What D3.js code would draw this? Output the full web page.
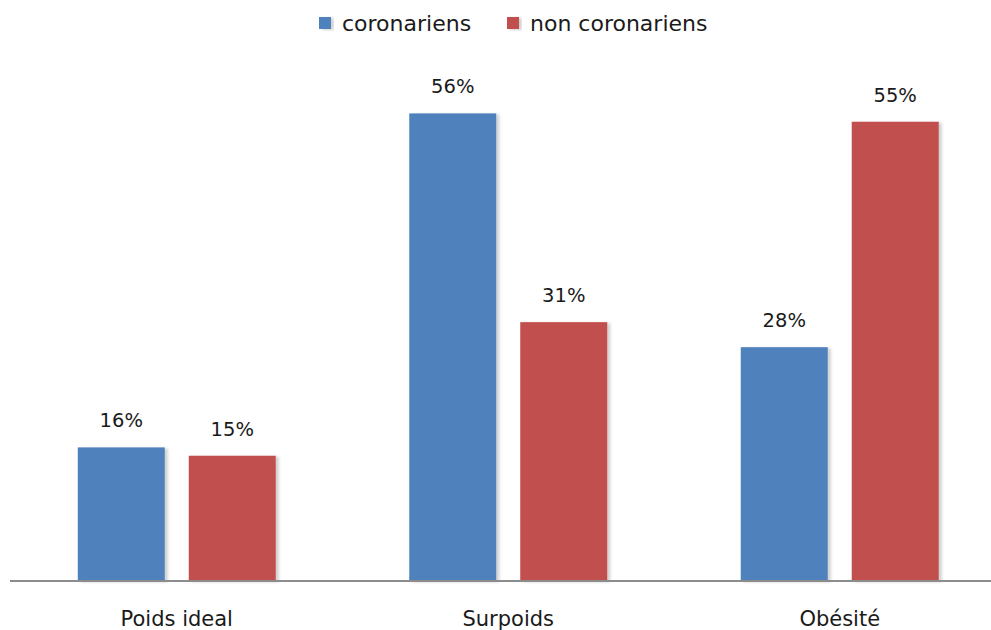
<!DOCTYPE html>
<html>
<head>
<meta charset="utf-8">
<script src="https://cdn.jsdelivr.net/npm/d3@7"></script>
<style>
  body { margin: 0; background: #fff; }
  svg text { font-family: "DejaVu Sans", "Noto Sans", sans-serif; fill: #1a1a1a; }
</style>
</head>
<body>
<svg id="chart" width="991" height="630"></svg>
<script>
// Répartition selon l'indice de masse corporelle
const categories = ["Poids ideal", "Surpoids", "Obésité"];
const seriesNames = ["coronariens", "non coronariens"];
const coronariens = [16, 56, 28];
const nonCoronariens = [15, 31, 55];
const seriesColors = ["#4F81BD", "#C0504D"];

const values = [coronariens, nonCoronariens];
const rows = categories.map((c, i) => ({
  category: c,
  bars: seriesNames.map((s, j) => ({ series: s, value: values[j][i], color: seriesColors[j] }))
}));

const svg = d3.select("#chart");
const baseY = 581;

const x0 = d3.scaleBand()
  .domain(categories)
  .range([11, 1005.5])
  .paddingInner(0.4027)
  .paddingOuter(0.2014);

const x1 = d3.scaleBand()
  .domain(seriesNames)
  .range([0, x0.bandwidth()])
  .paddingInner(0.216)
  .paddingOuter(0);

const y = d3.scaleLinear().domain([0, 60]).range([baseY, 80]);

// soft shadow on the right side of each bar
const defs = svg.append("defs");
const f = defs.append("filter").attr("id", "shadow")
  .attr("x", "-10%").attr("y", "-10%").attr("width", "130%").attr("height", "120%");
f.append("feDropShadow").attr("dx", 3).attr("dy", 1).attr("stdDeviation", 1.5)
  .attr("flood-color", "#000").attr("flood-opacity", 0.18);

const groups = svg.append("g").selectAll("g")
  .data(rows).join("g")
  .attr("transform", d => `translate(${x0(d.category)},0)`);

groups.selectAll("rect")
  .data(d => d.bars).join("rect")
  .attr("x", d => x1(d.series))
  .attr("y", d => y(d.value))
  .attr("width", x1.bandwidth())
  .attr("height", d => baseY - y(d.value))
  .attr("fill", d => d.color)
  .attr("filter", "url(#shadow)");

groups.selectAll("text.val")
  .data(d => d.bars).join("text")
  .attr("class", "val")
  .attr("x", d => x1(d.series) + x1.bandwidth() / 2)
  .attr("y", d => y(d.value) - 20)
  .attr("text-anchor", "middle")
  .attr("font-size", 19.5)
  .text(d => d.value + "%");

// horizontal category axis
const xAxis = svg.append("g")
  .attr("transform", `translate(0,${baseY})`)
  .call(d3.axisBottom(x0).tickSize(0).tickPadding(30));
xAxis.select(".domain").attr("d", "M10,0H991").attr("stroke", "#8c8c8c").attr("stroke-width", 2);
xAxis.selectAll("text")
  .attr("font-size", 21)
  .attr("font-family", "\"DejaVu Sans\", \"Noto Sans\", sans-serif")
  .attr("fill", "#1a1a1a");

// legend
const legendItems = [
  { name: seriesNames[0], color: seriesColors[0], x: 319 },
  { name: seriesNames[1], color: seriesColors[1], x: 507 }
];
const lg = svg.append("g").selectAll("g").data(legendItems).join("g")
  .attr("transform", d => `translate(${d.x},0)`);
lg.append("rect")
  .attr("x", 0).attr("y", 17).attr("width", 12).attr("height", 12)
  .attr("fill", d => d.color)
  .attr("filter", "url(#shadow)");
lg.append("text")
  .attr("x", 23).attr("y", 31)
  .attr("font-size", 22)
  .text(d => d.name);
</script>
</body>
</html>
